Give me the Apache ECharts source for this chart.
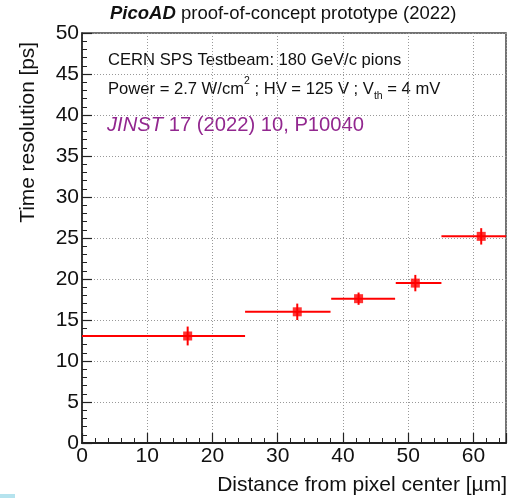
<!DOCTYPE html>
<html>
<head>
<meta charset="utf-8">
<script src="https://cdn.jsdelivr.net/npm/echarts@6/dist/echarts.min.js"></script>
<style>html,body{margin:0;padding:0;background:#fff}#c{width:514px;height:498px}</style>
</head>
<body>
<div id="c"></div>
<script>
// ---- data ----
const xCenter = [16.2, 33.0, 42.4, 51.1, 61.2];
const yValue  = [13.05, 16.0, 17.6, 19.5, 25.2];
const xLow    = [0, 25.0, 38.2, 48.1, 55.1];
const xHigh   = [25.0, 38.1, 48.0, 55.1, 65.0];
const yErr    = [1.15, 1.0, 0.75, 1.0, 1.0];
const xTicks  = [0, 10, 20, 30, 40, 50, 60];
const yTicks  = [0, 5, 10, 15, 20, 25, 30, 35, 40, 45, 50];
const titleBold = 'PicoAD';
const titleRest = ' proof-of-concept prototype (2022)';
const xTitle = 'Distance from pixel center [\u00b5m]';
const yTitle = 'Time resolution [ps]';

const F = '"Liberation Sans", Arial, Helvetica, sans-serif';
const chart = echarts.init(document.getElementById('c'), null, {renderer: 'canvas'});

const pts = xCenter.map((x, i) => [x, yValue[i], xLow[i], xHigh[i], yErr[i]]);

const option = {
  animation: false,
  backgroundColor: '#fff',
  grid: {left: 82, right: 8, top: 33, bottom: 55, show: true, borderColor: '#444', borderWidth: 1.5, backgroundColor: 'transparent'},
  xAxis: {
    type: 'value', min: 0, max: 65, interval: 10,
    axisLine: {show: true, onZero: false, lineStyle: {color: '#222', width: 2}},
    axisTick: {show: true, inside: true, length: 10, lineStyle: {color: '#222', width: 1.2}},
    minorTick: {show: true, splitNumber: 5, length: 5, lineStyle: {color: '#222', width: 1}},
    axisLabel: {fontFamily: F, fontSize: 21, color: '#111', margin: 3, showMaxLabel: false,
      formatter: v => xTicks.includes(v) ? String(v) : ''},
    splitLine: {show: true, lineStyle: {color: '#999', type: [1, 2], width: 1}}
  },
  yAxis: {
    type: 'value', min: 0, max: 50, interval: 5,
    axisLine: {show: true, onZero: false, lineStyle: {color: '#222', width: 1.5}},
    axisTick: {show: true, inside: true, length: 10, lineStyle: {color: '#222', width: 1.2}},
    minorTick: {show: true, splitNumber: 5, length: 5, lineStyle: {color: '#222', width: 1}},
    axisLabel: {fontFamily: F, fontSize: 21, color: '#111', margin: 3,
      formatter: v => yTicks.includes(v) ? String(v) : ''},
    splitLine: {show: true, lineStyle: {color: '#999', type: [1, 2], width: 1}}
  },
  series: [
    {
      type: 'custom',
      data: pts,
      renderItem: function (params, api) {
        const x = api.value(0), y = api.value(1), xl = api.value(2), xh = api.value(3), e = api.value(4);
        const a = api.coord([xl, y]), b = api.coord([xh, y]);
        const c = api.coord([x, y - e]), d = api.coord([x, y + e]);
        return {
          type: 'group',
          children: [
            {type: 'line', shape: {x1: a[0], y1: a[1], x2: b[0], y2: b[1]}, style: {stroke: '#ff0000', lineWidth: 2}},
            {type: 'line', shape: {x1: c[0], y1: c[1], x2: d[0], y2: d[1]}, style: {stroke: '#ff0000', lineWidth: 2}}
          ]
        };
      },
      z: 3
    },
    {
      type: 'scatter',
      data: pts.map(p => [p[0], p[1]]),
      symbol: 'rect', symbolSize: 9,
      itemStyle: {color: '#ff0000'},
      z: 4
    }
  ],
  graphic: [
    {type: 'text', x: 110, y: 14, style: {
      rich: {b: {fontFamily: F, fontSize: 18.5, fontWeight: 'bold', fontStyle: 'italic', fill: '#111'},
             n: {fontFamily: F, fontSize: 18.5, fill: '#111'}},
      text: '{b|' + titleBold + '}{n|' + titleRest + '}', verticalAlign: 'middle'}},
    {type: 'text', x: 108, y: 60, style: {fontFamily: F, fontSize: 16.6, fill: '#111', text: 'CERN SPS Testbeam: 180 GeV/c pions', verticalAlign: 'middle'}},
    {type: 'text', x: 108, y: 89, style: {
      rich: {n: {fontFamily: F, fontSize: 16.6, fill: '#111', lineHeight: 26, verticalAlign: 'middle'},
             sup: {fontFamily: F, fontSize: 10.5, fill: '#111', lineHeight: 26, verticalAlign: 'top'},
             sub: {fontFamily: F, fontSize: 10.5, fill: '#111', lineHeight: 26, verticalAlign: 'bottom'}},
      text: '{n|Power = 2.7 W/cm}{sup|2}{n| ; HV = 125 V ; V}{sub|th}{n| = 4 mV}', verticalAlign: 'middle'}},
    {type: 'text', x: 107, y: 125, style: {
      rich: {i: {fontFamily: F, fontSize: 20.2, fontStyle: 'italic', fill: '#92278f'},
             n: {fontFamily: F, fontSize: 20.2, fill: '#92278f'}},
      text: '{i|JINST}{n| 17 (2022) 10, P10040}', verticalAlign: 'middle'}},
    {type: 'text', x: 507, y: 485, style: {fontFamily: F, fontSize: 21, fill: '#111', text: xTitle, align: 'right', verticalAlign: 'middle'}},
    {type: 'text', x: 28, y: 42, rotation: Math.PI / 2, style: {fontFamily: F, fontSize: 20.8, fill: '#111', text: yTitle, align: 'right', verticalAlign: 'middle'}},
    {type: 'rect', shape: {x: 0, y: 494, width: 15, height: 4}, style: {fill: '#b5e3ee'}}
  ]
};
chart.setOption(option);
</script>
</body>
</html>
